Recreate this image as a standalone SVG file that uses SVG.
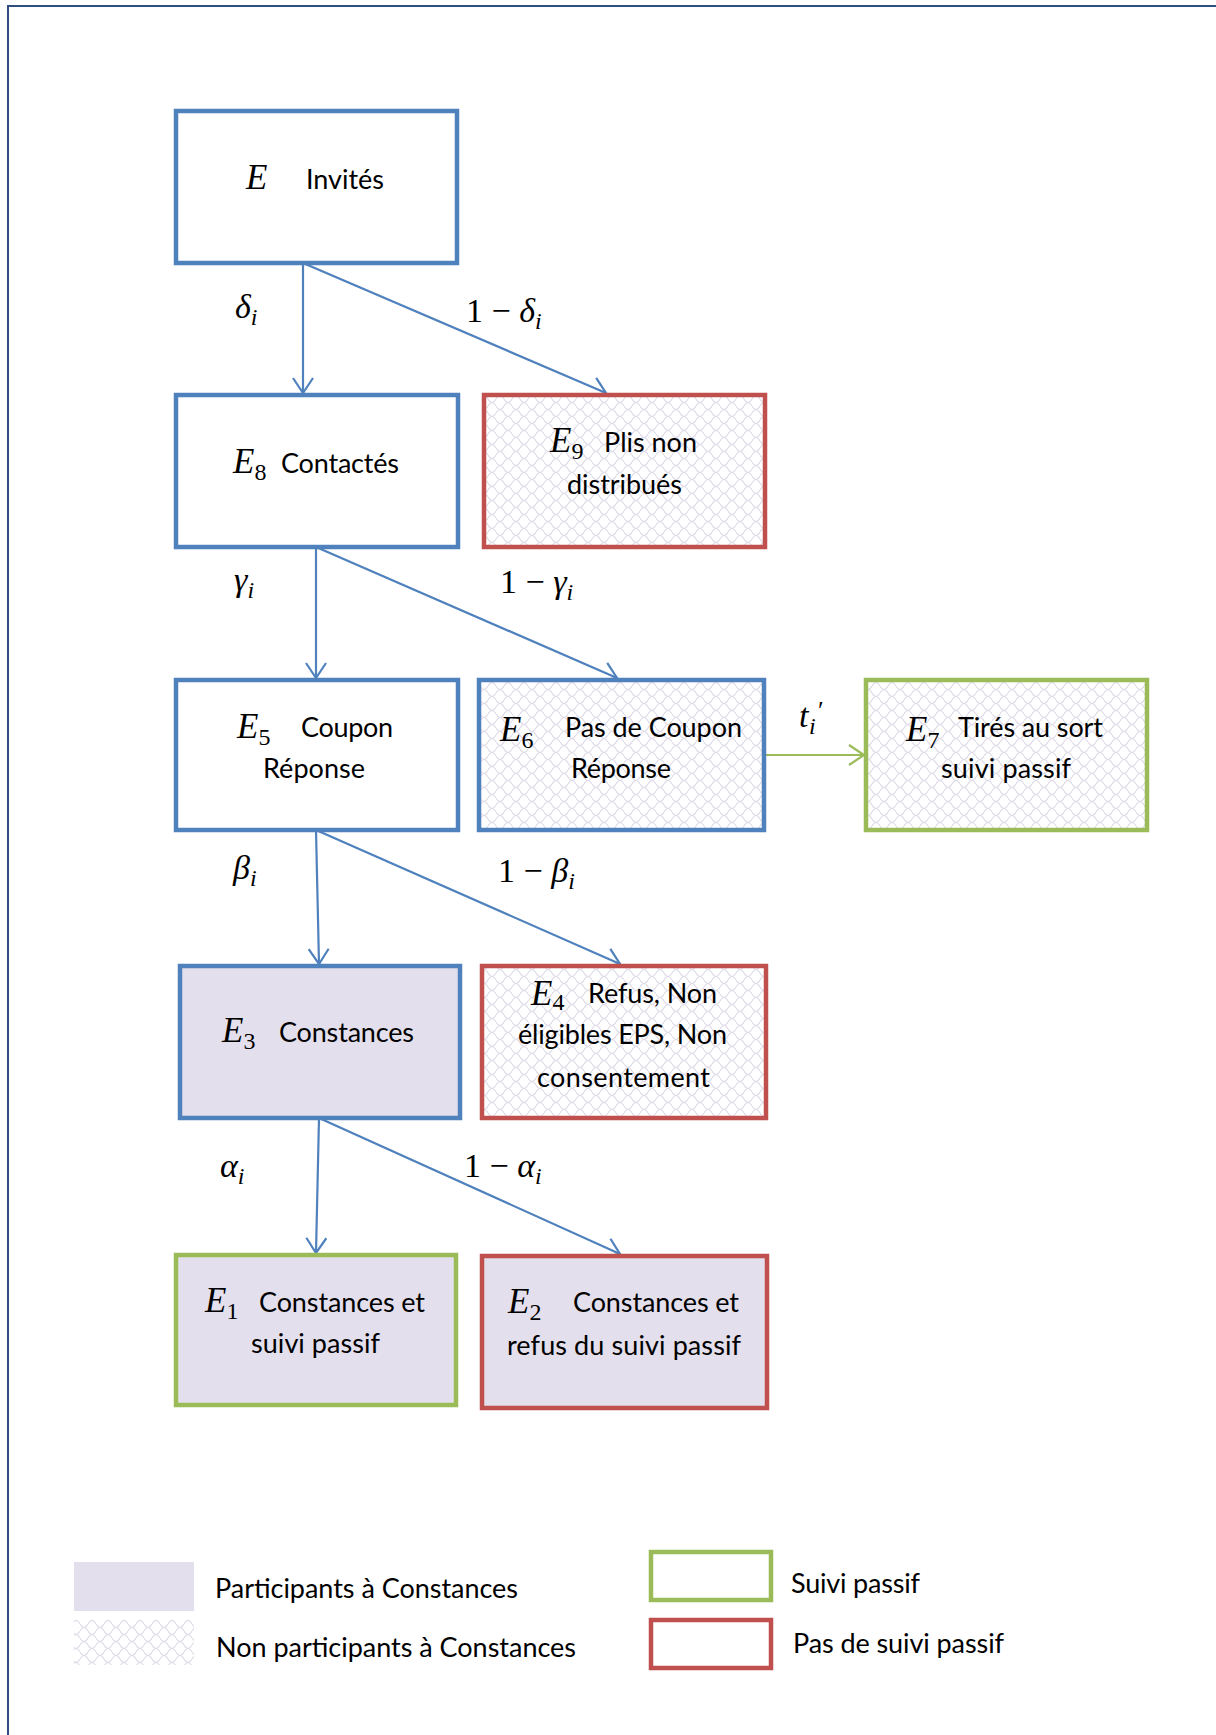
<svg xmlns="http://www.w3.org/2000/svg" width="1216" height="1735" viewBox="0 0 1216 1735">
<style>
.t{font-family:Lato,"Liberation Sans",sans-serif;font-size:27px;fill:#000}
.m{font-family:"Liberation Serif",serif;font-style:italic;font-size:35px;fill:#000}
.sub{font-style:normal;font-size:24px}
.ml{font-family:"Liberation Serif",serif;font-size:34px;fill:#000}
.it{font-style:italic}
.si{font-style:italic;font-size:24px}
.box{stroke-width:4.5}
.blue{stroke:#4F81BD}
.red{stroke:#C0504D}
.green{stroke:#9BBB59}
.part{fill:#E4DFEC}
.hatch{fill:url(#weave)}
.plain{fill:#fff}
.conn{stroke:#4F81BD;stroke-width:2.2;fill:none}
</style>
<defs>
<pattern id="weave" patternUnits="userSpaceOnUse" width="16" height="14">
<rect width="16" height="14" fill="#fff"/>
<path d="M0 7 Q4 0 8 7 T16 7" fill="none" stroke="#DEDAE8" stroke-width="1.1"/>
<path d="M0 0 Q4 7 8 0 M8 14 Q12 7 16 14" fill="none" stroke="#DEDAE8" stroke-width="1.1"/>
</pattern>
<marker id="ab" markerUnits="userSpaceOnUse" markerWidth="20" markerHeight="24" refX="16" refY="11" orient="auto" viewBox="0 0 20 24">
<path d="M1 1 L16 11 L1 21" fill="none" stroke="#4F81BD" stroke-width="2.2"/>
</marker>
<marker id="ag" markerUnits="userSpaceOnUse" markerWidth="20" markerHeight="24" refX="16" refY="11" orient="auto" viewBox="0 0 20 24">
<path d="M1 1 L16 11 L1 21" fill="none" stroke="#9BBB59" stroke-width="2.2"/>
</marker>
</defs>
<rect width="1216" height="1735" fill="#fff"/>
<path d="M8 1735 V6 H1216" fill="none" stroke="#2E4F7F" stroke-width="2"/>

<g id="connectors">
<line class="conn" x1="303" y1="263" x2="303" y2="393" marker-end="url(#ab)"/>
<line class="conn" x1="303" y1="263" x2="606" y2="393" marker-end="url(#ab)"/>
<line class="conn" x1="316" y1="547" x2="316" y2="678" marker-end="url(#ab)"/>
<line class="conn" x1="316" y1="547" x2="617" y2="678" marker-end="url(#ab)"/>
<line class="conn" x1="316" y1="830" x2="319" y2="964" marker-end="url(#ab)"/>
<line class="conn" x1="316" y1="830" x2="620" y2="964" marker-end="url(#ab)"/>
<line class="conn" x1="319" y1="1118" x2="316" y2="1253" marker-end="url(#ab)"/>
<line class="conn" x1="319" y1="1118" x2="620" y2="1254" marker-end="url(#ab)"/>
<line x1="765" y1="755" x2="864" y2="755" stroke="#9BBB59" stroke-width="2.2" marker-end="url(#ag)"/>
<text class="ml" x="235" y="318"><tspan class="it">δ</tspan><tspan class="si" dy="7">i</tspan></text>
<text class="ml" x="466" y="322">1 − <tspan class="it">δ</tspan><tspan class="si" dy="7">i</tspan></text>
<text class="ml" x="234" y="591"><tspan class="it">γ</tspan><tspan class="si" dy="7">i</tspan></text>
<text class="ml" x="500" y="593">1 − <tspan class="it">γ</tspan><tspan class="si" dy="7">i</tspan></text>
<text class="ml" x="233" y="879"><tspan class="it">β</tspan><tspan class="si" dy="7">i</tspan></text>
<text class="ml" x="498" y="882">1 − <tspan class="it">β</tspan><tspan class="si" dy="7">i</tspan></text>
<text class="ml" x="220" y="1177"><tspan class="it">α</tspan><tspan class="si" dy="7">i</tspan></text>
<text class="ml" x="464" y="1177">1 − <tspan class="it">α</tspan><tspan class="si" dy="7">i</tspan></text>
<text class="ml" x="799" y="727"><tspan class="it">t</tspan><tspan class="si" dy="7" x="809">i</tspan><tspan font-size="26" x="818" dy="-15">′</tspan></text>
</g>

<g id="E">
<rect class="box blue plain" x="176" y="111" width="281" height="152"/>
<text class="m" x="246" y="189" font-size="40">E</text>
<text class="t" x="306" y="189" textLength="78">Invités</text>
</g>
<g id="E8">
<rect class="box blue plain" x="176" y="395" width="282" height="152"/>
<text class="m" x="233" y="473">E<tspan class="sub" dy="7">8</tspan></text>
<text class="t" x="281" y="473" textLength="118">Contactés</text>
</g>
<g id="E9">
<rect class="box red hatch" x="484" y="395" width="281" height="152"/>
<text class="m" x="550" y="452">E<tspan class="sub" dy="7">9</tspan></text>
<text class="t" x="604" y="452" textLength="93">Plis non</text>
<text class="t" x="567" y="494" textLength="115">distribués</text>
</g>
<g id="E5">
<rect class="box blue plain" x="176" y="680" width="282" height="150"/>
<text class="m" x="237" y="738">E<tspan class="sub" dy="7">5</tspan></text>
<text class="t" x="301" y="737" textLength="92">Coupon</text>
<text class="t" x="263" y="778" textLength="102">Réponse</text>
</g>
<g id="E6">
<rect class="box blue hatch" x="479" y="680" width="285" height="150"/>
<text class="m" x="500" y="741">E<tspan class="sub" dy="7">6</tspan></text>
<text class="t" x="565" y="737" textLength="177">Pas de Coupon</text>
<text class="t" x="571" y="778" textLength="100">Réponse</text>
</g>
<g id="E7">
<rect class="box green hatch" x="866" y="680" width="281" height="150"/>
<text class="m" x="906" y="741">E<tspan class="sub" dy="7">7</tspan></text>
<text class="t" x="958" y="737" textLength="145">Tirés au sort</text>
<text class="t" x="941" y="778" textLength="130">suivi passif</text>
</g>
<g id="E3">
<rect class="box blue part" x="180" y="966" width="280" height="152"/>
<text class="m" x="222" y="1042">E<tspan class="sub" dy="7">3</tspan></text>
<text class="t" x="279" y="1042" textLength="135">Constances</text>
</g>
<g id="E4">
<rect class="box red hatch" x="482" y="966" width="284" height="152"/>
<text class="m" x="531" y="1005">E<tspan class="sub" dy="5">4</tspan></text>
<text class="t" x="588" y="1003" textLength="129">Refus, Non</text>
<text class="t" x="518" y="1044" textLength="209">éligibles EPS, Non</text>
<text class="t" x="537" y="1087" textLength="173">consentement</text>
</g>
<g id="E1">
<rect class="box green part" x="176" y="1255" width="280" height="150"/>
<text class="m" x="205" y="1312">E<tspan class="sub" dy="7">1</tspan></text>
<text class="t" x="259" y="1312" textLength="166">Constances et</text>
<text class="t" x="251" y="1353" textLength="129">suivi passif</text>
</g>
<g id="E2">
<rect class="box red part" x="482" y="1256" width="285" height="152"/>
<text class="m" x="508" y="1313">E<tspan class="sub" dy="7">2</tspan></text>
<text class="t" x="573" y="1312" textLength="166">Constances et</text>
<text class="t" x="507" y="1355" textLength="234">refus du suivi passif</text>
</g>

<g id="legend">
<rect class="part" x="74" y="1562" width="120" height="49"/>
<text class="t" x="215" y="1598" textLength="303">Participants à Constances</text>
<rect class="hatch" x="74" y="1620" width="120" height="45"/>
<text class="t" x="216" y="1657" textLength="360">Non participants à Constances</text>
<rect class="box green plain" x="651" y="1552" width="120" height="48"/>
<text class="t" x="791" y="1593" textLength="129">Suivi passif</text>
<rect class="box red plain" x="651" y="1620" width="120" height="48"/>
<text class="t" x="793" y="1653" textLength="211">Pas de suivi passif</text>
</g>
</svg>
